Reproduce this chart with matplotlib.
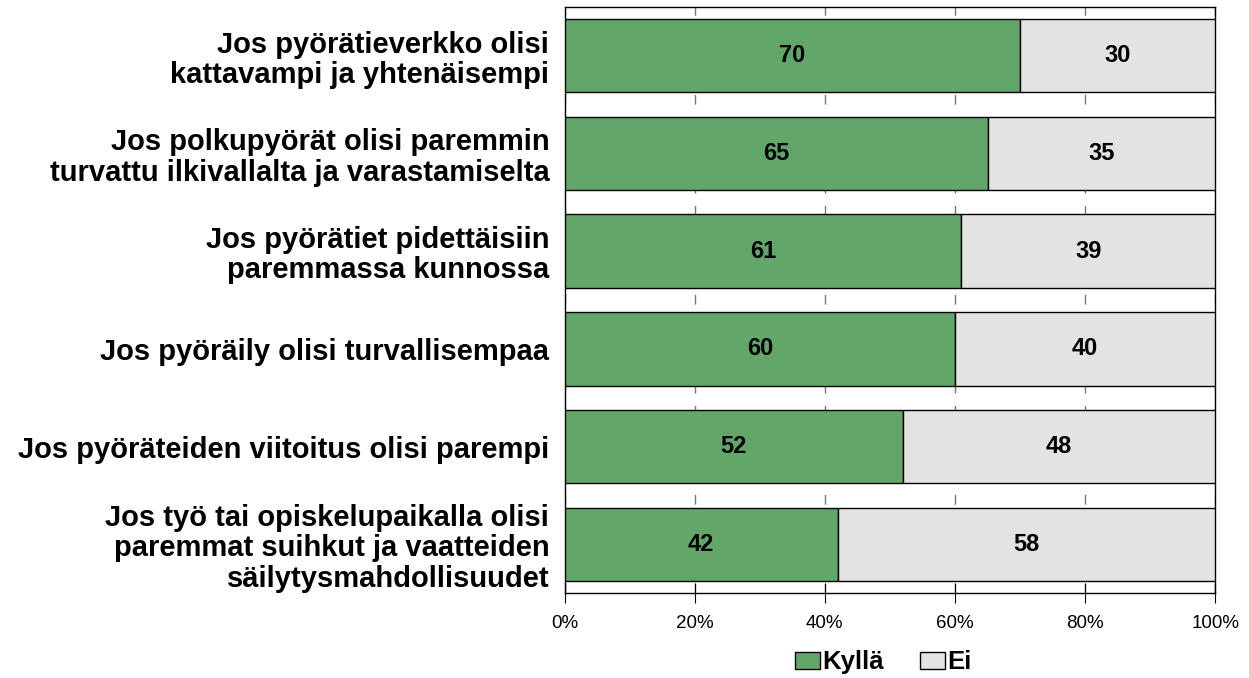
import numpy as np
import matplotlib.pyplot as plt
from matplotlib.ticker import PercentFormatter

categories = [
    "Jos pyörätieverkko olisi\nkattavampi ja yhtenäisempi",
    "Jos polkupyörät olisi paremmin\nturvattu ilkivallalta ja varastamiselta",
    "Jos pyörätiet pidettäisiin\nparemmassa kunnossa",
    "Jos pyöräily olisi turvallisempaa",
    "Jos pyöräteiden viitoitus olisi parempi",
    "Jos työ tai opiskelupaikalla olisi\nparemmat suihkut ja vaatteiden\nsäilytysmahdollisuudet",
]
kylla = [70, 65, 61, 60, 52, 42]
ei = [30, 35, 39, 40, 48, 58]
series_names = ["Kyllä", "Ei"]

plt.rcParams["font.family"] = ["Liberation Sans", "DejaVu Sans"]

fig = plt.figure(figsize=(12.49, 6.78), dpi=100)
ax = fig.add_axes([0.452, 0.125, 0.521, 0.865])

y = np.arange(len(categories))
green = "#62a66a"
grey = "#e3e3e3"

ax.barh(y, kylla, height=0.75, color=green, edgecolor="black", linewidth=1,
        label=series_names[0], zorder=3)
ax.barh(y, ei, left=kylla, height=0.75, color=grey, edgecolor="black", linewidth=1,
        label=series_names[1], zorder=3)

for i in range(len(categories)):
    ax.text(kylla[i] / 2, y[i], str(kylla[i]), ha="center", va="center",
            fontsize=17, fontweight="bold", zorder=4)
    ax.text(kylla[i] + ei[i] / 2, y[i], str(ei[i]), ha="center", va="center",
            fontsize=17, fontweight="bold", zorder=4)

ax.set_xlim(0, 100)
ax.set_ylim(len(categories) - 0.5, -0.5)
ax.set_xticks([0, 20, 40, 60, 80, 100])
ax.xaxis.set_major_formatter(PercentFormatter(decimals=0))
ax.set_yticks(y)
ax.set_yticklabels(categories, fontsize=21, fontweight="bold", linespacing=1.1)
ax.tick_params(axis="y", length=0, pad=11)
ax.tick_params(axis="x", length=14, direction="inout", labelsize=13.5, pad=9)

ax.xaxis.grid(True, linestyle=(0, (7, 9)), color="#777777", linewidth=1, zorder=0)
for s in ax.spines.values():
    s.set_color("black")
    s.set_linewidth(1)

ax.legend(loc="center", bbox_to_anchor=(0.49, -0.118), ncol=2, frameon=False,
          prop={"weight": "bold", "size": 18.5}, handlelength=0.97, handleheight=0.66,
          handletextpad=0.1, columnspacing=1.4)

fig.savefig("out.png", dpi=100)
